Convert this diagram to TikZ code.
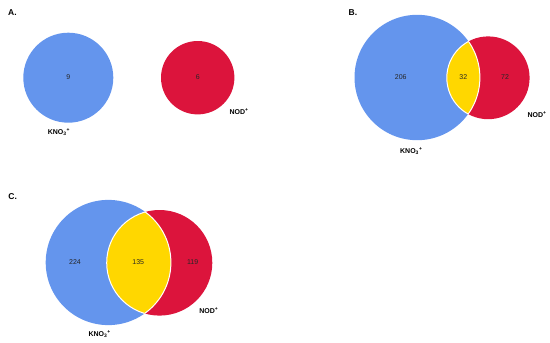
\documentclass[tikz,border=0pt]{standalone}
\usepackage{fontspec}
\setmainfont{Liberation Sans}
\definecolor{vblue}{HTML}{6495ED}
\definecolor{vred}{HTML}{DC143C}
\definecolor{vgold}{HTML}{FFD700}
\newcommand{\kno}{KNO\textsubscript{3}\textsuperscript{+}}
\newcommand{\nod}{NOD\textsuperscript{+}}
\begin{document}
\begin{tikzpicture}[x=1pt,y=-1pt,
  num/.style={font=\fontsize{7}{8}\selectfont, text=black!85, inner sep=0pt},
  setlab/.style={font=\bfseries\fontsize{7}{8}\selectfont, inner sep=0pt},
  panel/.style={font=\bfseries\fontsize{8.5}{9}\selectfont, inner sep=0pt, anchor=west},
  lensedge/.style={draw=white, line width=1pt}]
\useasboundingbox (0,0) rectangle (550,343);
% ---------- Panel A ----------
\node[panel] (pa) at (8,12.7) {A.};
\fill[vblue] (68.3,77.7) circle (45pt);
\fill[vred] (197.7,77.7) circle (36.7pt);
\node[num] (a9) at (68.3,77.5) {9};
\node[num] (a6) at (197.7,77.5) {6};
\node[setlab] (akno) at (59,132) {\kno};
\node[setlab] (anod) at (239,111.5) {\nod};
% ---------- Panel B ----------
\node[panel] (pb) at (348.5,12.7) {B.};
\fill[vblue] (417.2,77.5) circle (62.7pt);
\fill[vred] (488.2,77.8) circle (41.4pt);
\begin{scope}
  \clip (417.2,77.5) circle (62.7pt);
  \fill[vgold] (488.2,77.8) circle (41.4pt);
  \draw[lensedge] (488.2,77.8) circle (41.4pt);
\end{scope}
\begin{scope}
  \clip (488.2,77.8) circle (41.4pt);
  \draw[lensedge] (417.2,77.5) circle (62.7pt);
\end{scope}
\node[num] (b206) at (400.7,77.5) {206};
\node[num] (b32) at (463.3,77.5) {32};
\node[num] (b72) at (505,77.5) {72};
\node[setlab] (bkno) at (411.3,150.7) {\kno};
\node[setlab] (bnod) at (537,115) {\nod};
% ---------- Panel C ----------
\node[panel] (pc) at (8.3,197) {C.};
\fill[vblue] (108.3,262.5) circle (62.6pt);
\fill[vred] (159.5,262.8) circle (52.8pt);
\begin{scope}
  \clip (108.3,262.5) circle (62.6pt);
  \fill[vgold] (159.5,262.8) circle (52.8pt);
  \draw[lensedge] (159.5,262.8) circle (52.8pt);
\end{scope}
\begin{scope}
  \clip (159.5,262.8) circle (52.8pt);
  \draw[lensedge] (108.3,262.5) circle (62.6pt);
\end{scope}
\node[num] (c224) at (75,262.3) {224};
\node[num] (c135) at (138.3,262.3) {135};
\node[num] (c119) at (192.7,262.3) {119};
\node[setlab] (ckno) at (99.7,334) {\kno};
\node[setlab] (cnod) at (208.8,311) {\nod};
\end{tikzpicture}
\end{document}
